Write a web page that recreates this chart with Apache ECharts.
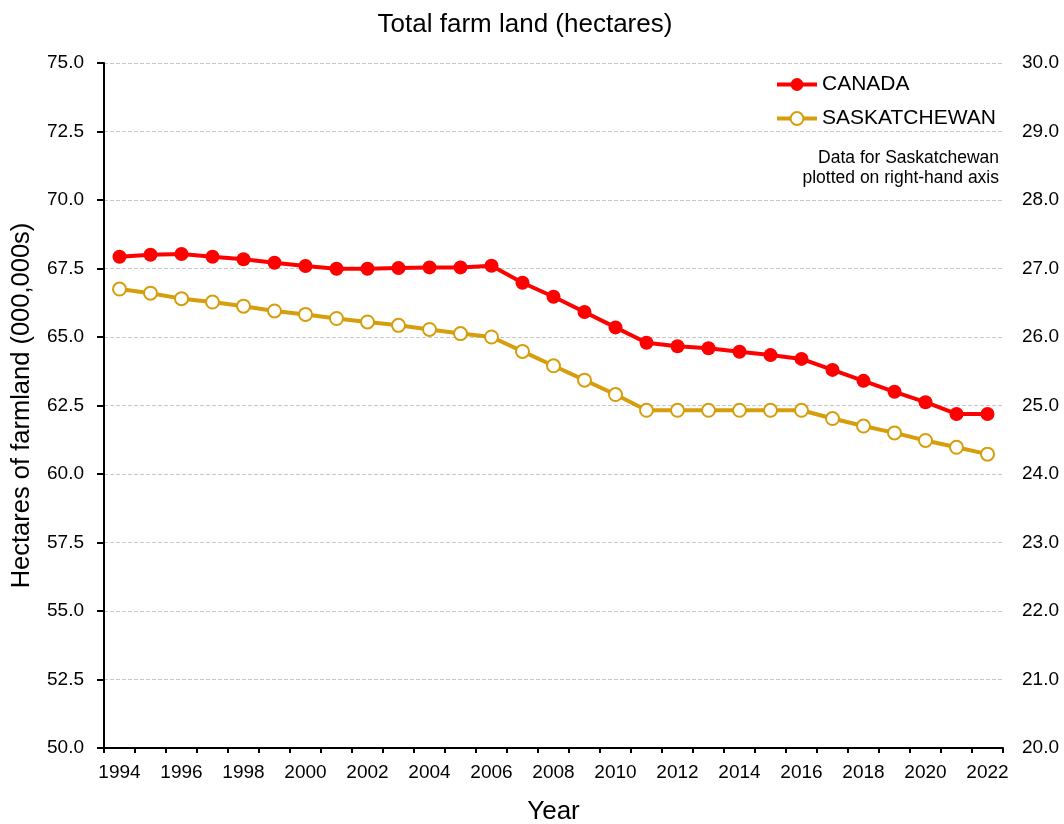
<!DOCTYPE html>
<html>
<head>
<meta charset="utf-8">
<style>
  html, body { margin: 0; padding: 0; background: #fff; }
  #chart { width: 1064px; height: 824px; }
</style>
<script src="https://cdn.jsdelivr.net/npm/echarts@6/dist/echarts.min.js"></script>
</head>
<body>
<div id="chart"></div>
<script>
// data
var years = ['1994', '1995', '1996', '1997', '1998', '1999', '2000', '2001', '2002', '2003',
  '2004', '2005', '2006', '2007', '2008', '2009', '2010', '2011', '2012', '2013',
  '2014', '2015', '2016', '2017', '2018', '2019', '2020', '2021', '2022']
var canada = [67.93, 68.0, 68.03, 67.93, 67.84, 67.71, 67.59, 67.49, 67.49, 67.52,
  67.54, 67.54, 67.6, 66.98, 66.47, 65.91, 65.35, 64.79, 64.66, 64.59,
  64.46, 64.34, 64.2, 63.8, 63.4, 63.0, 62.62, 62.19, 62.19]
var sask = [26.7, 26.64, 26.56, 26.51, 26.45, 26.38, 26.33, 26.27, 26.22, 26.17,
  26.11, 26.05, 26.0, 25.79, 25.58, 25.37, 25.16, 24.93, 24.93, 24.93,
  24.93, 24.93, 24.93, 24.81, 24.7, 24.6, 24.49, 24.39, 24.29]
var noteLines = ['Data for Saskatchewan', 'plotted on right-hand axis']

var font = '"Liberation Sans", Arial, sans-serif'
var gold = '#d69e0c'

var chart = echarts.init(document.getElementById('chart'))
chart.setOption({
  animation: false,
  textStyle: { fontFamily: font },
  title: {
    text: 'Total farm land (hectares)',
    left: 520,
    top: 7,
    textAlign: 'center',
    textStyle: { fontSize: 26, fontWeight: 'normal', color: '#000', fontFamily: font }
  },
  legend: {
    orient: 'vertical',
    left: 770,
    top: 69,
    itemWidth: 40,
    itemHeight: 16,
    itemGap: 13,
    lineStyle: { width: 4 },
    textStyle: { fontSize: 21, color: '#000', fontFamily: font },
    data: ['CANADA', 'SASKATCHEWAN']
  },
  graphic: [{
    type: 'text',
    right: 65,
    top: 148,
    style: {
      text: noteLines.join('\n'),
      font: '17.5px ' + font,
      fill: '#000',
      textAlign: 'right',
      lineHeight: 20
    }
  }],
  grid: {
    left: 104,
    right: 61,
    top: 63,
    bottom: 76,
    containLabel: false,
    outerBoundsMode: 'none'
  },
  xAxis: {
    type: 'category',
    data: years,
    boundaryGap: true,
    name: 'Year',
    nameLocation: 'middle',
    nameGap: 51,
    nameTextStyle: { fontSize: 26, color: '#000', fontFamily: font },
    axisLine: { lineStyle: { color: '#000', width: 2 } },
    axisTick: { show: true, interval: 0, length: 5, lineStyle: { color: '#000', width: 2 } },
    axisLabel: { interval: 1, fontSize: 19, color: '#000', margin: 15, fontFamily: font },
    splitLine: { show: false }
  },
  yAxis: [{
    type: 'value',
    min: 50,
    max: 75,
    interval: 2.5,
    name: 'Hectares of farmland (000,000s)',
    nameLocation: 'middle',
    nameGap: 69,
    nameTextStyle: { fontSize: 25.5, color: '#000', fontFamily: font },
    axisLine: { show: true, lineStyle: { color: '#000', width: 2 } },
    axisTick: { show: true, length: 7, lineStyle: { color: '#000', width: 2 } },
    axisLabel: {
      fontSize: 19,
      color: '#000',
      margin: 20,
      fontFamily: font,
      formatter: function (v) { return v.toFixed(1) }
    },
    splitLine: { show: true, lineStyle: { type: 'dashed', color: '#c8c8c8', width: 1 } }
  }, {
    type: 'value',
    min: 20,
    max: 30,
    interval: 1,
    position: 'right',
    axisLine: { show: false },
    axisTick: { show: false },
    axisLabel: {
      fontSize: 19,
      color: '#000',
      margin: 19,
      fontFamily: font,
      formatter: function (v) { return v.toFixed(1) }
    },
    splitLine: { show: false }
  }],
  series: [{
    name: 'CANADA',
    type: 'line',
    data: canada,
    yAxisIndex: 0,
    symbol: 'circle',
    symbolSize: 14,
    lineStyle: { color: '#ff0000', width: 4 },
    itemStyle: { color: '#ff0000', borderColor: '#ff0000', borderWidth: 0 },
    z: 3
  }, {
    name: 'SASKATCHEWAN',
    type: 'line',
    data: sask,
    yAxisIndex: 1,
    symbol: 'circle',
    symbolSize: 13,
    lineStyle: { color: gold, width: 4 },
    itemStyle: { color: '#fff', borderColor: gold, borderWidth: 2 },
    z: 2
  }]
})
</script>
</body>
</html>
